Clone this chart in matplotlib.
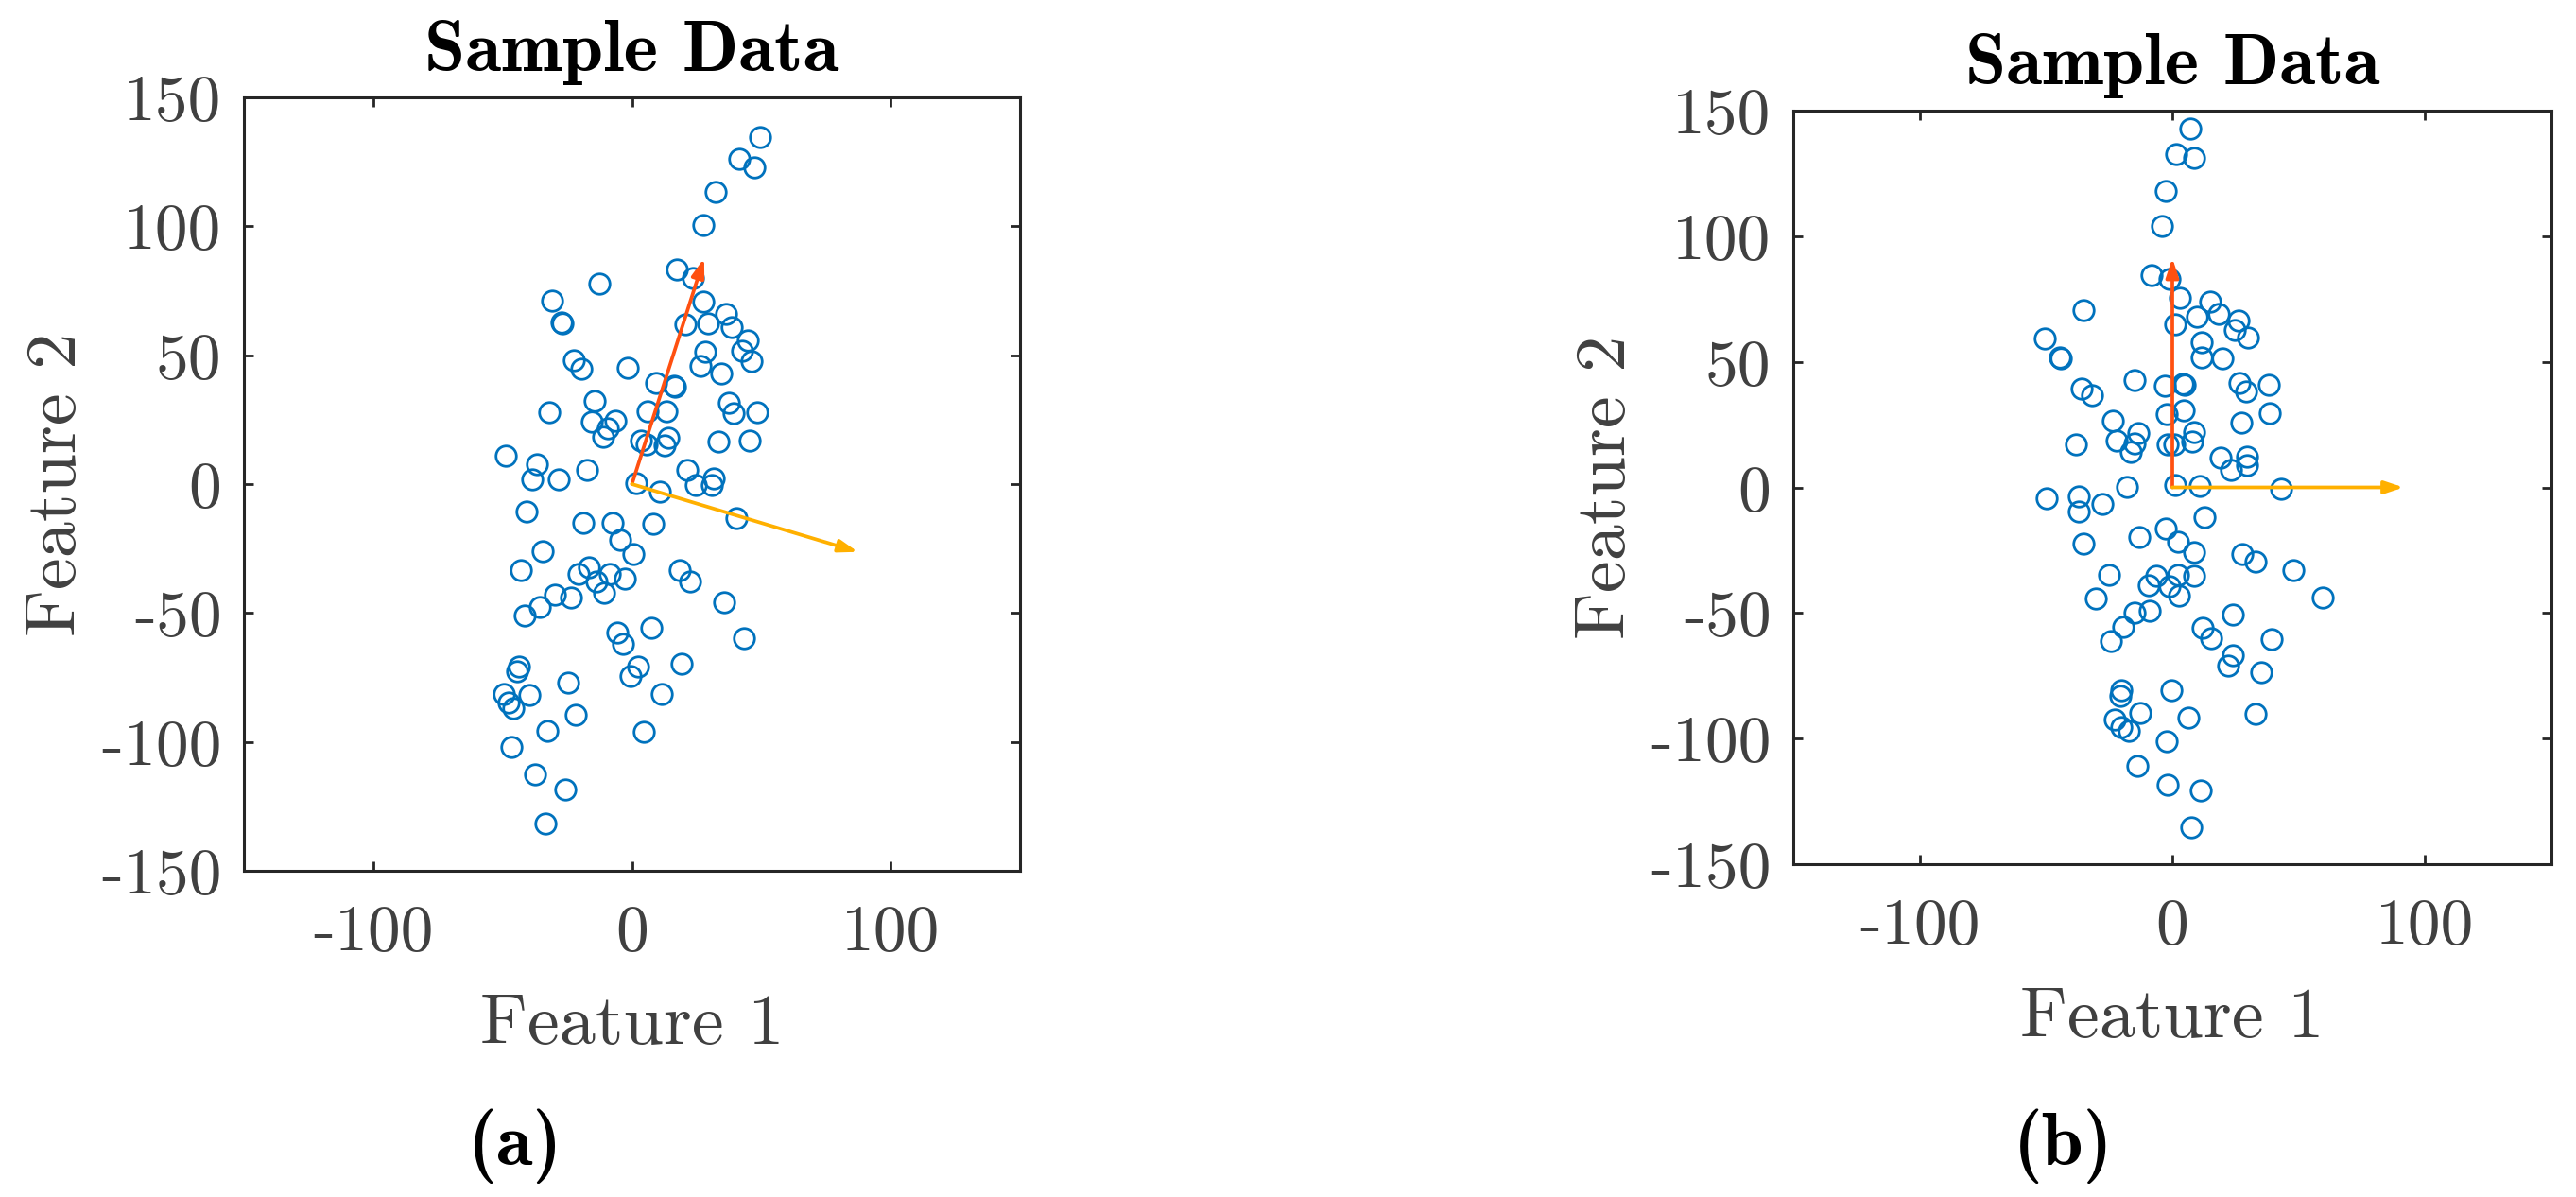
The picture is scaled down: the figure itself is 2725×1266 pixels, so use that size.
import numpy as np
import matplotlib
matplotlib.use('Agg')
import matplotlib.pyplot as plt

# ==== DATA ====
a_x = [49.6, 41.4, 47.4, 32.5, 27.5, 17.5, 23.7, -12.5, -30.7, 27.5,
       -27.3, -26.7, 20.5, 29.5, 36.5, 38.6, 44.6, 42.6, 46.4, 28.3,
       26.5, 34.5, -22.3, -19.7, -1.6, 9.2, 16.1, 16.7, -14.5, -31.9,
       6.2, 13.5, 37.5, 39.4, 48.4, -15.5, -6.4, -9.2, -11.2, 3.4,
       5.8, 14.1, 12.5, 33.5, 45.4, -48.8, -36.7, -38.6, -28.5, -17.5,
       1.6, 10.8, 21.5, 24.5, 30.9, 31.7, -40.6, -18.7, -7.6, 8.4,
       40.4, -4.6, 0.4, -34.7, -42.8, -16.5, -20.7, -8.6, -2.6, -13.7,
       -10.6, -29.7, -23.7, 18.3, 22.5, -35.7, -41.6, 35.5, -5.6, -3.6,
       7.4, 43.4, -43.8, -44.4, 2.4, -0.4, 19.3, -49.6, -47.8, -45.8,
       -39.6, -24.7, 11.4, -21.7, -32.7, 4.4, -46.6, -37.6, -25.7, -33.5]
a_y = [134.5, 126.1, 122.7, 113.5, 100.6, 83.1, 79.9, 77.9, 71.3, 70.9,
       62.7, 62.4, 62.0, 62.4, 66.1, 60.8, 55.8, 51.8, 47.8, 51.4,
       45.8, 43.0, 48.0, 44.6, 45.2, 39.4, 38.2, 37.6, 32.3, 27.7,
       28.3, 28.1, 31.7, 27.5, 27.7, 24.3, 24.5, 21.5, 18.3, 16.9,
       15.5, 18.1, 15.1, 16.5, 16.7, 11.0, 7.8, 2.0, 2.0, 5.6,
       0.4, -3.0, 5.6, -0.4, -0.2, 2.2, -10.8, -14.9, -14.9, -15.3,
       -13.3, -21.5, -27.1, -25.9, -33.3, -32.3, -34.9, -34.7, -36.5, -37.6,
       -42.0, -42.8, -44.0, -33.5, -37.8, -47.6, -51.0, -46.0, -57.4, -61.8,
       -55.6, -59.6, -70.7, -72.5, -70.9, -74.3, -69.5, -81.5, -84.7, -87.1,
       -81.7, -76.9, -81.3, -89.6, -95.8, -96.0, -101.8, -112.7, -118.5, -131.7]

b_x = [7.1, 1.6, 8.7, -2.8, -4.0, -8.3, -1.2, 3.0, -35.1, 15.1,
       9.9, 18.5, 26.0, 24.8, 30.0, 1.0, -50.6, -44.6, -44.0, 11.7,
       11.5, 20.0, -15.1, -3.0, 4.0, 4.8, 26.6, 29.2, 38.3, -35.9,
       -31.9, 4.6, -2.2, 38.7, 27.2, -23.4, -22.2, -13.5, -15.1, -16.3,
       -38.3, -1.8, 0.8, 8.5, 7.9, 19.0, 23.2, 29.6, 29.4, -18.1,
       1.0, 10.9, 42.9, -49.6, -37.1, -37.1, -27.8, 12.7, -2.6, -35.3,
       -13.1, 2.2, 8.7, 27.6, 33.1, 47.8, -25.2, -6.3, 2.4, 8.7,
       -9.3, -1.2, 2.6, -30.4, 59.5, -15.1, -9.1, 23.8, -19.6, -24.2,
       12.1, 15.3, 39.3, 23.8, 22.0, 35.3, -20.2, -20.6, -0.4, -12.9,
       -22.8, -20.2, -17.3, 6.3, 33.1, -2.2, -13.9, -1.8, 11.3, 7.5]
b_y = [142.9, 132.7, 131.3, 118.1, 104.2, 84.5, 83.1, 75.4, 70.6, 73.8,
       68.1, 69.2, 66.5, 62.5, 59.7, 65.1, 59.1, 51.8, 51.4, 57.7,
       51.8, 51.4, 42.7, 40.5, 41.3, 40.9, 41.5, 38.3, 40.9, 39.3,
       36.7, 30.8, 29.0, 29.6, 25.8, 26.6, 18.8, 21.8, 17.5, 14.3,
       17.1, 17.3, 17.3, 22.2, 18.1, 11.9, 7.1, 12.1, 8.9, 0.2,
       0.8, 0.4, -0.6, -4.2, -3.4, -9.7, -6.5, -11.9, -16.5, -22.4,
       -19.6, -21.8, -25.6, -26.4, -29.4, -33.1, -34.7, -35.3, -34.9, -35.3,
       -39.1, -39.5, -43.1, -44.4, -43.8, -49.8, -49.0, -50.6, -55.6, -61.1,
       -56.0, -59.9, -60.5, -66.7, -70.8, -73.6, -80.6, -82.9, -80.6, -89.7,
       -92.5, -95.4, -96.8, -91.7, -90.1, -101.0, -110.9, -118.5, -120.6, -135.3]

# principal direction arrows (tips, all start at origin)
a_pc1 = (27.9, 87.6)
a_pc2 = (87.3, -26.3)
b_pc1 = (0.0, 91.3)
b_pc2 = (91.5, 0.0)

ticks = [-100, 0, 100]
yticks = [-150, -100, -50, 0, 50, 100, 150]
tick_labels = ['-100', '0', '100']
ytick_labels = ['-150', '-100', '-50', '0', '50', '100', '150']
panel_labels = ['(a)', '(b)']
# =======================================

W, H = 2725, 1266
DPI = 100
plt.rcParams['axes.unicode_minus'] = False

BLUE = '#0072BD'
RED = '#FF5010'
YELLOW = '#FFB000'
GRAY = '#404040'
SPINE = '#262626'

fig = plt.figure(figsize=(W / DPI, H / DPI), dpi=DPI)

# axes boxes in pixels: left, top, right, bottom
boxes = [(258, 103, 1079, 921), (1897, 117, 2699, 914)]
data = [(a_x, a_y, a_pc1, a_pc2), (b_x, b_y, b_pc1, b_pc2)]
panel_pos = [(545, 1212), (2183, 1212)]

for (l, t, r, b), (xs, ys, pc1, pc2), lab, (px, py) in zip(boxes, data, panel_labels, panel_pos):
    ax = fig.add_axes([l / W, 1 - b / H, (r - l) / W, (b - t) / H])
    ax.plot(xs, ys, 'o', ms=15.5, mfc='none', mec=BLUE, mew=2.0, zorder=2)
    for tip, col in ((pc1, RED), (pc2, YELLOW)):
        ax.annotate('', xy=tip, xytext=(0, 0),
                    arrowprops=dict(arrowstyle='-|>,head_length=0.6,head_width=0.2',
                                    color=col, lw=2.7, shrinkA=0, shrinkB=0,
                                    mutation_scale=20), zorder=3)
    ax.set_xlim(-150, 150)
    ax.set_ylim(-150, 150)
    ax.set_xticks(ticks, tick_labels, fontfamily='cmr10', fontsize=50, color=GRAY)
    ax.set_yticks(yticks, ytick_labels, fontfamily='cmr10', fontsize=50, color=GRAY)
    ax.tick_params(direction='in', top=True, right=True, length=7, width=2.0,
                   color=SPINE)
    ax.tick_params(axis='y', pad=17)
    ax.tick_params(axis='x', pad=26)
    for s in ax.spines.values():
        s.set_linewidth(2.2)
        s.set_color(SPINE)
    ax.set_xlabel('Feature 1', fontfamily='cmr10', fontsize=55, color=GRAY, labelpad=24)
    ax.set_ylabel('Feature 2', fontfamily='cmr10', fontsize=55, color=GRAY, labelpad=9)
    ax.set_title('Sample Data', fontfamily='cmb10', fontsize=56, color='black', pad=20)
    fig.text(px / W, 1 - py / H, lab, fontfamily='cmb10', fontsize=57,
             ha='center', va='center', color='black')

fig.savefig('out.png', dpi=DPI)
